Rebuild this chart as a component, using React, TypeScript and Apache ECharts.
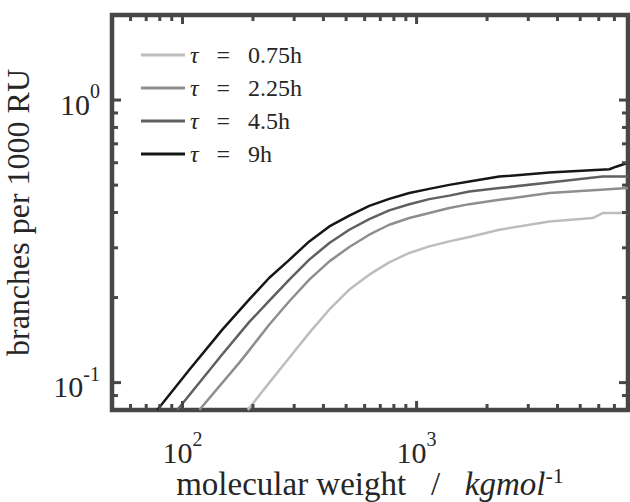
import React, { useEffect, useRef } from 'react';
import * as echarts from 'echarts';

const X_MIN = 50;
const X_MAX = 8000;
const Y_MIN = 0.08;
const Y_MAX = 2;

const SERIES_NAMES = ['0.75h', '2.25h', '4.5h', '9h'];
const SERIES_COLORS = ['#bdbdbd', '#8e8e8e', '#606060', '#161616'];

const TAU_075 = [
  [190, 0.08], [235, 0.1], [286, 0.1225], [348, 0.15], [424, 0.1815], [516, 0.2135],
  [628, 0.241], [764, 0.2665], [931, 0.2876], [1133, 0.3035], [1379, 0.3161],
  [1680, 0.3276], [2257, 0.3475], [3692, 0.3718], [5651, 0.3823], [6235, 0.398],
  [8000, 0.398],
];
const TAU_225 = [
  [118, 0.08], [175, 0.1177], [193, 0.1303], [235, 0.1606], [286, 0.1941], [348, 0.2315],
  [424, 0.2686], [516, 0.302], [628, 0.3338], [764, 0.362], [931, 0.3823],
  [1133, 0.3982], [1379, 0.4147], [1680, 0.4282], [2257, 0.4436], [3692, 0.4685],
  [8000, 0.488],
];
const TAU_45 = [
  [95, 0.08], [148, 0.126], [193, 0.164], [235, 0.195], [286, 0.2315], [348, 0.2724],
  [424, 0.312], [516, 0.3475], [628, 0.379], [764, 0.407], [931, 0.428],
  [1133, 0.446], [1379, 0.459], [1680, 0.475], [2257, 0.488], [3692, 0.511],
  [6235, 0.536], [8000, 0.536],
];
const TAU_9 = [
  [78, 0.08], [107, 0.111], [148, 0.154], [193, 0.197], [235, 0.235], [286, 0.272],
  [348, 0.316], [424, 0.357], [516, 0.39], [628, 0.422], [764, 0.447],
  [931, 0.469], [1133, 0.485], [1379, 0.501], [1680, 0.515], [2257, 0.536],
  [3692, 0.554], [6662, 0.569], [7114, 0.581], [8000, 0.6],
];
const SERIES_DATA = [TAU_075, TAU_225, TAU_45, TAU_9];

const X_MAJOR_TICKS = [100, 1000];
const X_MINOR_TICKS = [60, 70, 80, 90, 200, 300, 400, 500, 600, 700, 800, 900, 2000, 3000, 4000, 5000, 6000, 7000];
const Y_MAJOR_TICKS = [0.1, 1];
const Y_MINOR_TICKS = [0.09, 0.2, 0.3, 0.4, 0.5, 0.6, 0.7, 0.8, 0.9];

const FONT = "'Liberation Serif', 'DejaVu Serif', serif";
const FRAME = '#474747';
const TEXT = '#262626';

const supRich = {
  b: { fontFamily: FONT, fontSize: 30, color: TEXT, lineHeight: 38, verticalAlign: 'bottom' },
  s: { fontFamily: FONT, fontSize: 20, color: TEXT, lineHeight: 18, verticalAlign: 'top' },
};

const powFormatter = (v: number) => `{b|10}{s|${Math.round(Math.log10(v))}}`;

export default function App() {
  const ref = useRef<HTMLDivElement>(null);
  useEffect(() => {
    if (!ref.current) return;
    const chart = echarts.init(ref.current, null, { renderer: 'svg' });

    const tickStyle = { stroke: FRAME, lineWidth: 3 };

    const option: any = {
      animation: false,
      backgroundColor: '#ffffff',
      textStyle: { fontFamily: FONT },
      grid: {
        left: 112, right: 2, top: 15, bottom: 92,
        containLabel: false,
        outerBoundsMode: 'none',
        show: true, borderColor: FRAME, borderWidth: 4.5,
      },
      legend: {
        data: SERIES_NAMES,
        orient: 'vertical',
        left: 141,
        top: 43,
        padding: 0,
        itemWidth: 44,
        itemHeight: 3,
        itemGap: 9,
        icon: 'rect',
        textStyle: {
          fontFamily: FONT, fontSize: 24, color: TEXT, lineHeight: 24,
          rich: {
            i: { fontFamily: FONT, fontSize: 24, fontStyle: 'italic', color: TEXT, lineHeight: 24 },
            t: { fontFamily: FONT, fontSize: 24, color: TEXT, lineHeight: 24 },
          },
        },
        formatter: (n: string) => `{i|τ}{t|   =   ${n}}`,
      },
      xAxis: {
        type: 'log', logBase: 10, min: X_MIN, max: X_MAX,
        axisLine: { show: false }, axisTick: { show: false }, splitLine: { show: false },
        axisLabel: {
          showMinLabel: false, showMaxLabel: false, margin: 19,
          formatter: powFormatter, rich: supRich,
        },
        name: '{n|molecular weight   /   }{i|kgmol}{s|-1}',
        nameLocation: 'middle',
        nameGap: 54,
        nameMoveOverlap: false,
        nameTextStyle: {
          rich: {
            n: { fontFamily: FONT, fontSize: 33, color: TEXT, lineHeight: 36, verticalAlign: 'bottom' },
            i: { fontFamily: FONT, fontSize: 33, fontStyle: 'italic', color: TEXT, lineHeight: 36, verticalAlign: 'bottom' },
            s: { fontFamily: FONT, fontSize: 22, color: TEXT, lineHeight: 20, verticalAlign: 'top' },
          },
        },
      },
      yAxis: {
        type: 'log', logBase: 10, min: Y_MIN, max: Y_MAX,
        axisLine: { show: false }, axisTick: { show: false }, splitLine: { show: false },
        axisLabel: {
          showMinLabel: false, showMaxLabel: false, margin: 12,
          formatter: powFormatter, rich: supRich,
        },
        name: 'branches per 1000 RU',
        nameLocation: 'middle',
        nameGap: 78,
        nameMoveOverlap: false,
        nameTextStyle: { fontFamily: FONT, fontSize: 32, color: TEXT },
      },
      series: [
        ...SERIES_DATA.map((d, i) => ({
          name: SERIES_NAMES[i],
          type: 'line',
          data: d,
          showSymbol: false,
          symbol: 'none',
          color: SERIES_COLORS[i],
          itemStyle: { color: SERIES_COLORS[i] },
          lineStyle: { color: SERIES_COLORS[i], width: 2.5, join: 'round' },
          z: 2 + i,
        })),
        {
          type: 'custom',
          silent: true,
          z: 10,
          encode: { x: 0, y: 1 },
          data: [
            ...X_MAJOR_TICKS.map((v) => [v, Y_MIN, 1]),
            ...X_MINOR_TICKS.map((v) => [v, Y_MIN, 0]),
          ],
          renderItem: (params: any, api: any) => {
            const v = api.value(0);
            const major = api.value(2);
            const b = api.coord([v, Y_MIN]);
            const t = api.coord([v, Y_MAX]);
            const len = major ? 9 : 6;
            return {
              type: 'group',
              children: [
                { type: 'line', shape: { x1: b[0], y1: b[1], x2: b[0], y2: b[1] - len }, style: tickStyle },
                { type: 'line', shape: { x1: t[0], y1: t[1], x2: t[0], y2: t[1] + len }, style: tickStyle },
              ],
            };
          },
        },
        {
          type: 'custom',
          silent: true,
          z: 10,
          encode: { x: 0, y: 1 },
          data: [
            ...Y_MAJOR_TICKS.map((v) => [X_MIN, v, 1]),
            ...Y_MINOR_TICKS.map((v) => [X_MIN, v, 0]),
          ],
          renderItem: (params: any, api: any) => {
            const v = api.value(1);
            const major = api.value(2);
            const l = api.coord([X_MIN, v]);
            const r = api.coord([X_MAX, v]);
            const len = major ? 9 : 6;
            return {
              type: 'group',
              children: [
                { type: 'line', shape: { x1: l[0], y1: l[1], x2: l[0] + len, y2: l[1] }, style: tickStyle },
                { type: 'line', shape: { x1: r[0], y1: r[1], x2: r[0] - len, y2: r[1] }, style: tickStyle },
              ],
            };
          },
        },
      ],
    };
    chart.setOption(option);
    return () => chart.dispose();
  }, []);
  return <div ref={ref} style={{ width: 630, height: 502, position: 'absolute', left: 0, top: 0 }} />;
}
